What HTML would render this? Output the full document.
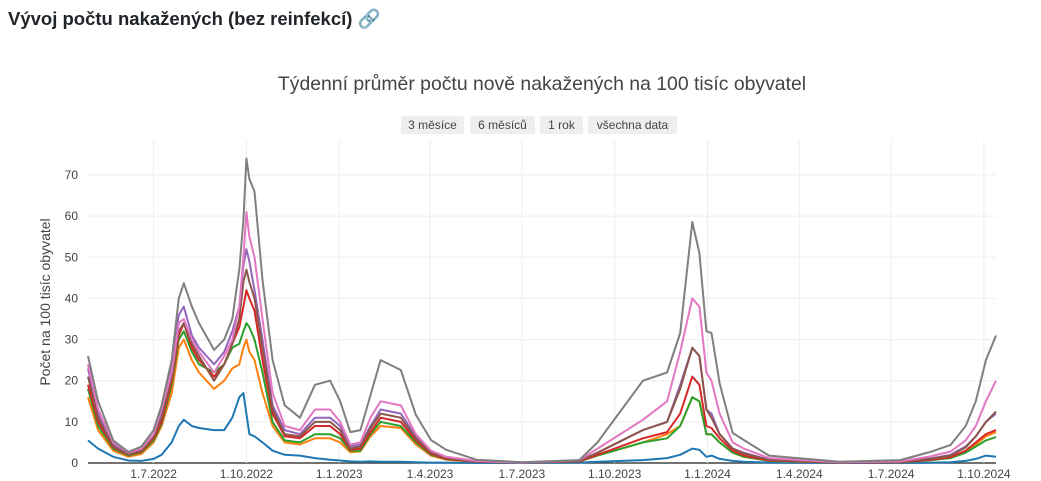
<!DOCTYPE html>
<html><head><meta charset="utf-8">
<style>
body{margin:0;width:1041px;height:481px;background:#fff;font-family:"Liberation Sans","DejaVu Sans",sans-serif;overflow:hidden;position:relative}
h2{position:absolute;left:8px;top:8px;margin:0;font-size:18.5px;font-weight:bold;color:#212529}
.btn{position:absolute;top:116px;height:18px;background:#eee;font-size:12px;color:#444;line-height:18px;text-align:center;border-radius:2px}
</style></head><body>
<h2>Vývoj počtu nakažených (bez reinfekcí) <span style="color:#6c757d">🔗</span></h2>
<div class="btn" style="left:401px;width:63px">3 měsíce</div>
<div class="btn" style="left:470px;width:65px">6 měsíců</div>
<div class="btn" style="left:540px;width:43px">1 rok</div>
<div class="btn" style="left:588px;width:89px">všechna data</div>
<svg id="chart" width="1041" height="481" style="position:absolute;left:0;top:0;pointer-events:none">
<text x="542" y="90" text-anchor="middle" font-size="19.4" fill="#444">Týdenní průměr počtu nově nakažených na 100 tisíc obyvatel</text>
<text transform="translate(50,302) rotate(-90)" text-anchor="middle" font-size="14" fill="#444">Počet na 100 tisíc obyvatel</text>
<g id="grid"></g><g id="series"></g>
</svg>
<script>
const days=[-65,-55,-40,-25,-12,0,8,18,25,30,38,45,60,70,78,85,89,92,95,100,108,118,130,145,160,175,185,195,205,215,225,245,260,275,290,320,365,422,440,485,509,522,534,541,548,553,561,574,585,610,680,740,770,790,805,815,825,835];
const gray=[26,15,5.5,2.7,4,8,14,25,40,43.7,38,34,27.5,30,35,47,59,74,69,66,44.5,25,14,11,19,20,15,7.5,8,16.5,25,22.6,11.7,5.6,3.2,0.8,0.2,0.7,5,20,22,31.6,58.6,51,32,31.6,19.4,7.3,5.6,1.8,0.3,0.7,2.7,4.4,9,15,25,31];
const pink=[24,13,5,2.5,3.5,7,13,22,34,35,30,27,22,26,30,38,50,61,55,50,35,17,9,8,13,13,10,4.5,5,11,15,14,7,3,1.5,0.5,0.1,0.7,3.5,10.5,15,27,40,38,22,20,12,5,3.5,1.2,0.2,0.4,1.6,2.8,5.5,9,15,20];
const purple=[23,12,4.5,2.3,3.3,7,12.5,24,36,38,31,28,24,27,32,38,48,52,49,42,30,14,8,7,11,11,9,4,4.5,9,13,12,6.5,2.8,1.3,0.4,0.1,0.5,2.5,8,10,19,28,26,13,12,7,3.5,2.5,0.8,0.2,0.3,1.1,2,4,6.5,10,12];
const brown=[21,11,4,2.1,3,6.5,11,21,32,34,29,26,20,24,29,35,44,47,44,40,28,13,7,6.5,10,10,8,3.5,4,8.5,12,11,6,2.5,1.2,0.4,0.1,0.5,2.5,8,10,18,28,26,13,11,7,3.5,2.3,0.8,0.2,0.3,1,1.8,3.8,6.5,10,12.5];
const red=[19,10,3.8,2,2.8,6,10,20,31,34,28,25,21,24,29,33,38,42,40,37,25,12,6.5,6,9,9,7,3.2,3.5,7.5,11,10,5.5,2.2,1,0.3,0.1,0.4,2,6,7.5,12,21,19,9,8.5,6,3,1.8,0.6,0.1,0.2,0.8,1.4,3,5,7,8];
const green=[18,9,3.5,1.8,2.6,5.5,9.5,19,30,32,27,24,22,24,28,29,32,34,33,30,22,10,5.5,5,7,7,6,3,3,7,10,9,5,2,0.9,0.3,0.1,0.4,1.8,5,6,9,16,15,7,7,5,2.5,1.5,0.5,0.1,0.2,0.7,1.2,2.5,4,5.5,6.3];
const orange=[16,8,3,1.5,2.2,5,9,17,28,30,25,22,18,20,23,24,28,30,27,25,17,9,5,4.5,6,6,5,2.6,2.8,6.5,9,8.5,4.5,1.8,0.8,0.3,0.1,0.4,1.8,5,7,9,16,15,7,7,5,2.5,1.5,0.5,0.1,0.2,0.7,1.3,2.8,4.5,6.5,7.5];
const blue=[5.5,3.5,1.5,0.6,0.5,1,2,5,9,10.5,9,8.5,8,8,11,16,17,12,7,6.5,5,3,2,1.8,1.2,0.8,0.6,0.4,0.3,0.4,0.3,0.3,0.2,0.1,0.1,0,0,0.1,0.3,0.7,1.2,2,3.5,3.2,1.5,1.8,1,0.5,0.3,0.1,0,0,0.1,0.2,0.5,1,1.8,1.5];
const yTicks=[0,10,20,30,40,50,60,70];
const xTickDays=[0,92,184,274,365,457,549,640,731,823];
const xTickLabels=["1.7.2022","1.10.2022","1.1.2023","1.4.2023","1.7.2023","1.10.2023","1.1.2024","1.4.2024","1.7.2024","1.10.2024"];
const NS="http://www.w3.org/2000/svg";
const X0=88,X1=996,Y0=463,Y1=175,D0=-65,D1=835;
function xs(d){return X0+(d-D0)/(D1-D0)*(X1-X0);}
function ys(v){return Y0-(v/70)*(Y0-Y1);}
const grid=document.getElementById('grid');
yTicks.forEach(v=>{
  const l=document.createElementNS(NS,'line');
  l.setAttribute('x1',X0);l.setAttribute('x2',X1);l.setAttribute('y1',ys(v));l.setAttribute('y2',ys(v));
  l.setAttribute('stroke',v===0?'#444':'#eee');l.setAttribute('stroke-width',v===0?1.5:1);
  
  
  grid.appendChild(l);
  const t=document.createElementNS(NS,'text');
  t.setAttribute('x',X0-10);t.setAttribute('y',ys(v)+4);t.setAttribute('text-anchor','end');
  t.setAttribute('font-size','12');t.setAttribute('fill','#444');t.textContent=v;
  
  
  grid.appendChild(t);
});
xTickDays.forEach((d,i)=>{
  const l=document.createElementNS(NS,'line');
  l.setAttribute('x1',xs(d));l.setAttribute('x2',xs(d));l.setAttribute('y1',Y1-35);l.setAttribute('y2',Y0);
  l.setAttribute('stroke','#eee');
  
  
  grid.appendChild(l);
  const t=document.createElementNS(NS,'text');
  t.setAttribute('x',xs(d));t.setAttribute('y',478);t.setAttribute('text-anchor','middle');
  t.setAttribute('font-size','12');t.setAttribute('fill','#444');t.textContent=xTickLabels[i];
  
  
  grid.appendChild(t);
});
const series=[[blue,'#1f77b4','series-blue'],[orange,'#ff7f0e','series-orange'],[green,'#2ca02c','series-green'],[red,'#d62728','series-red'],[purple,'#9467bd','series-purple'],[brown,'#8c564b','series-brown'],[pink,'#e377c2','series-pink'],[gray,'#7f7f7f','series-gray']];
const sg=document.getElementById('series');
series.forEach(([vals,c,name])=>{
  const p=document.createElementNS(NS,'path');
  p.setAttribute('d',vals.map((v,i)=>(i?'L':'M')+xs(days[i]).toFixed(1)+','+ys(v).toFixed(1)).join(''));
  p.setAttribute('fill','none');p.setAttribute('stroke',c);p.setAttribute('stroke-width','2');p.setAttribute('stroke-linejoin','round');
  
  
  sg.appendChild(p);
});
</script>
</body></html>
